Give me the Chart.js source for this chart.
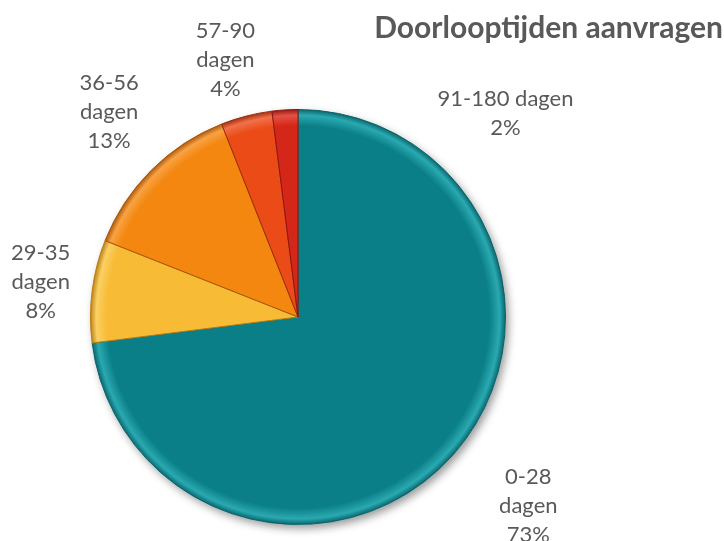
<!DOCTYPE html>
<html>
<head>
<meta charset="utf-8">
<script src="https://cdn.jsdelivr.net/npm/chart.js@4/dist/chart.umd.min.js"></script>
<style>
  html, body { margin: 0; padding: 0; background: #fff; }
  #wrap { width: 724px; height: 541px; }
</style>
</head>
<body>
<div id="wrap"><canvas id="pieChart"></canvas></div>
<script>
const chartTitle = 'Doorlooptijden aanvragen';
const categories = ['0-28 dagen', '29-35 dagen', '36-56 dagen', '57-90 dagen', '91-180 dagen'];
const percentages = [73, 8, 13, 4, 2];

// slice colours (base, rim highlight, border)
const baseColors = ['#0b7f87', '#f7bb36', '#f4870f', '#ea4b17', '#d5261a'];
const rimColors = ['#2aa9b1', '#fbd063', '#f8a243', '#f2704a', '#e45144'];
const edgeColors = ['#086269', '#b97d12', '#a85508', '#9c2c0c', '#8e160f'];

// label text lines per slice, and label centre relative to pie centre (in radii)
const labelLines = [
  ['0-28', 'dagen', '73%'],
  ['29-35', 'dagen', '8%'],
  ['36-56', 'dagen', '13%'],
  ['57-90', 'dagen', '4%'],
  ['91-180 dagen', '2%']
];
const labelSpots = [[1.11, 0.91], [-1.24, -0.17], [-0.91, -0.99], [-0.35, -1.24], [1.0, -0.98]];

const textColor = '#595959';
const labelFont = '22px Lato';

function sliceFill(c) {
  const chart = c.chart;
  const area = chart.chartArea;
  if (!area) return baseColors[c.dataIndex];
  const cx = (area.left + area.right) / 2;
  const cy = (area.top + area.bottom) / 2;
  const r = Math.min(area.width, area.height) / 2;
  const g = chart.ctx.createRadialGradient(cx, cy, 0, cx, cy, r);
  const i = c.dataIndex;
  g.addColorStop(0, baseColors[i]);
  g.addColorStop(0.92, baseColors[i]);
  g.addColorStop(0.97, rimColors[i]);
  g.addColorStop(1, edgeColors[i]);
  return g;
}

const pieShadow = {
  id: 'pieShadow',
  beforeDatasetsDraw(chart) {
    const arc = chart.getDatasetMeta(0).data[0];
    if (!arc) return;
    const ctx = chart.ctx;
    ctx.save();
    ctx.shadowColor = 'rgba(0,0,0,0.4)';
    ctx.shadowBlur = 9;
    ctx.shadowOffsetX = 3;
    ctx.shadowOffsetY = 4;
    ctx.fillStyle = '#ffffff';
    ctx.beginPath();
    ctx.arc(arc.x, arc.y, arc.outerRadius, 0, Math.PI * 2);
    ctx.fill();
    ctx.restore();
  }
};

const sliceLabels = {
  id: 'sliceLabels',
  afterDatasetsDraw(chart) {
    const meta = chart.getDatasetMeta(0);
    const ctx = chart.ctx;
    ctx.save();
    ctx.fillStyle = textColor;
    ctx.font = labelFont;
    ctx.textAlign = 'center';
    ctx.textBaseline = 'middle';
    const lh = 29;
    meta.data.forEach((arc, i) => {
      const lines = labelLines[i];
      const x = arc.x + labelSpots[i][0] * arc.outerRadius;
      const y = arc.y + labelSpots[i][1] * arc.outerRadius;
      const top = y - (lines.length - 1) * lh / 2;
      lines.forEach((t, k) => ctx.fillText(t, x, top + k * lh));
    });
    // title, top right
    ctx.font = 'bold 30px Lato';
    ctx.textAlign = 'right';
    ctx.fillText(chartTitle, chart.width - 1, 28);
    ctx.restore();
  }
};

const ctx = document.getElementById('pieChart').getContext('2d');
new Chart(ctx, {
  type: 'pie',
  data: {
    labels: categories,
    datasets: [{
      data: percentages,
      backgroundColor: sliceFill,
      borderColor: edgeColors,
      borderWidth: 1
    }]
  },
  options: {
    responsive: true,
    maintainAspectRatio: false,
    animation: false,
    layout: { padding: { left: 90, right: 218, top: 109, bottom: 16 } },
    plugins: {
      legend: { display: false },
      title: { display: false },
      tooltip: { enabled: false }
    }
  },
  plugins: [pieShadow, sliceLabels]
});
</script>
</body>
</html>
